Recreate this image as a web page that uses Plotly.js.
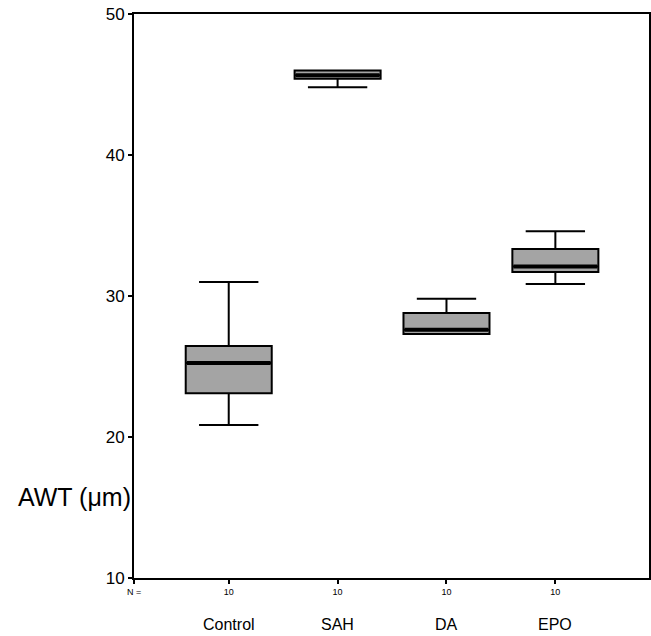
<!DOCTYPE html>
<html><head><meta charset="utf-8">
<script src="https://cdn.plot.ly/plotly-3.0.1.min.js"></script>
<style>body{margin:0;background:#fff}#c{width:651px;height:636px}</style>
</head><body><div id="c"></div>
<script>
const categories = ["Control", "SAH", "DA", "EPO"];
const nCounts = ["10", "10", "10", "10"];
const lowerFence = [20.85, 44.8, 27.3, 30.85];
const q1 = [23.1, 45.4, 27.3, 31.7];
const median = [25.25, 45.65, 27.6, 32.1];
const q3 = [26.45, 46.0, 28.8, 33.33];
const upperFence = [31.0, 46.0, 29.8, 34.6];
const yTicks = [10, 20, 30, 40, 50];

const boxWidth = 0.79;
const traces = categories.map((c, i) => ({
  type: 'box', x: [i], name: c,
  q1: [q1[i]], median: [median[i]], q3: [q3[i]],
  lowerfence: [lowerFence[i]], upperfence: [upperFence[i]],
  width: boxWidth, whiskerwidth: 0.69,
  fillcolor: '#a4a4a4', line: {color: '#000', width: 2},
  boxpoints: false, showlegend: false, hoverinfo: 'skip'
}));
const mx = [], my = [];
categories.forEach((c, i) => {
  mx.push(i - boxWidth/2 + 0.01, i + boxWidth/2 - 0.01, null);
  my.push(median[i], median[i], null);
});
traces.push({type: 'scatter', mode: 'lines', x: mx, y: my,
  line: {color: '#000', width: 4}, showlegend: false, hoverinfo: 'skip'});

const xLeft = -0.87;
const layout = {
  width: 651, height: 636,
  margin: {l: 134, r: 2, t: 14, b: 58},
  paper_bgcolor: '#fff', plot_bgcolor: '#fff',
  font: {family: 'Liberation Sans, Arial, sans-serif', color: '#000'},
  xaxis: {range: [xLeft, 3.86], showgrid: false, zeroline: false,
    showline: true, mirror: true, linecolor: '#000', linewidth: 2,
    ticks: 'outside', ticklen: 4, tickwidth: 2, tickcolor: '#000',
    tickvals: [xLeft, 0, 1, 2, 3], ticktext: ["N ="].concat(nCounts),
    tickfont: {size: 9}},
  yaxis: {range: [10, 50], showgrid: false, zeroline: false,
    showline: true, mirror: true, linecolor: '#000', linewidth: 2,
    ticks: 'outside', ticklen: 4, tickwidth: 2, tickcolor: '#000',
    tickvals: yTicks, tickfont: {size: 17}},
  annotations: categories.map((c, i) => ({
    text: c, x: i, xref: 'x', y: 0, yref: 'paper', yshift: -46,
    yanchor: 'middle', showarrow: false, font: {size: 16}
  })).concat([{
    text: 'AWT (μm)', x: 0, xref: 'paper', xanchor: 'right', xshift: -1,
    y: 0.1436, yref: 'paper', yanchor: 'middle', showarrow: false,
    font: {size: 25}
  }])
};
Plotly.newPlot('c', traces, layout, {displayModeBar: false, staticPlot: true});
</script></body></html>
